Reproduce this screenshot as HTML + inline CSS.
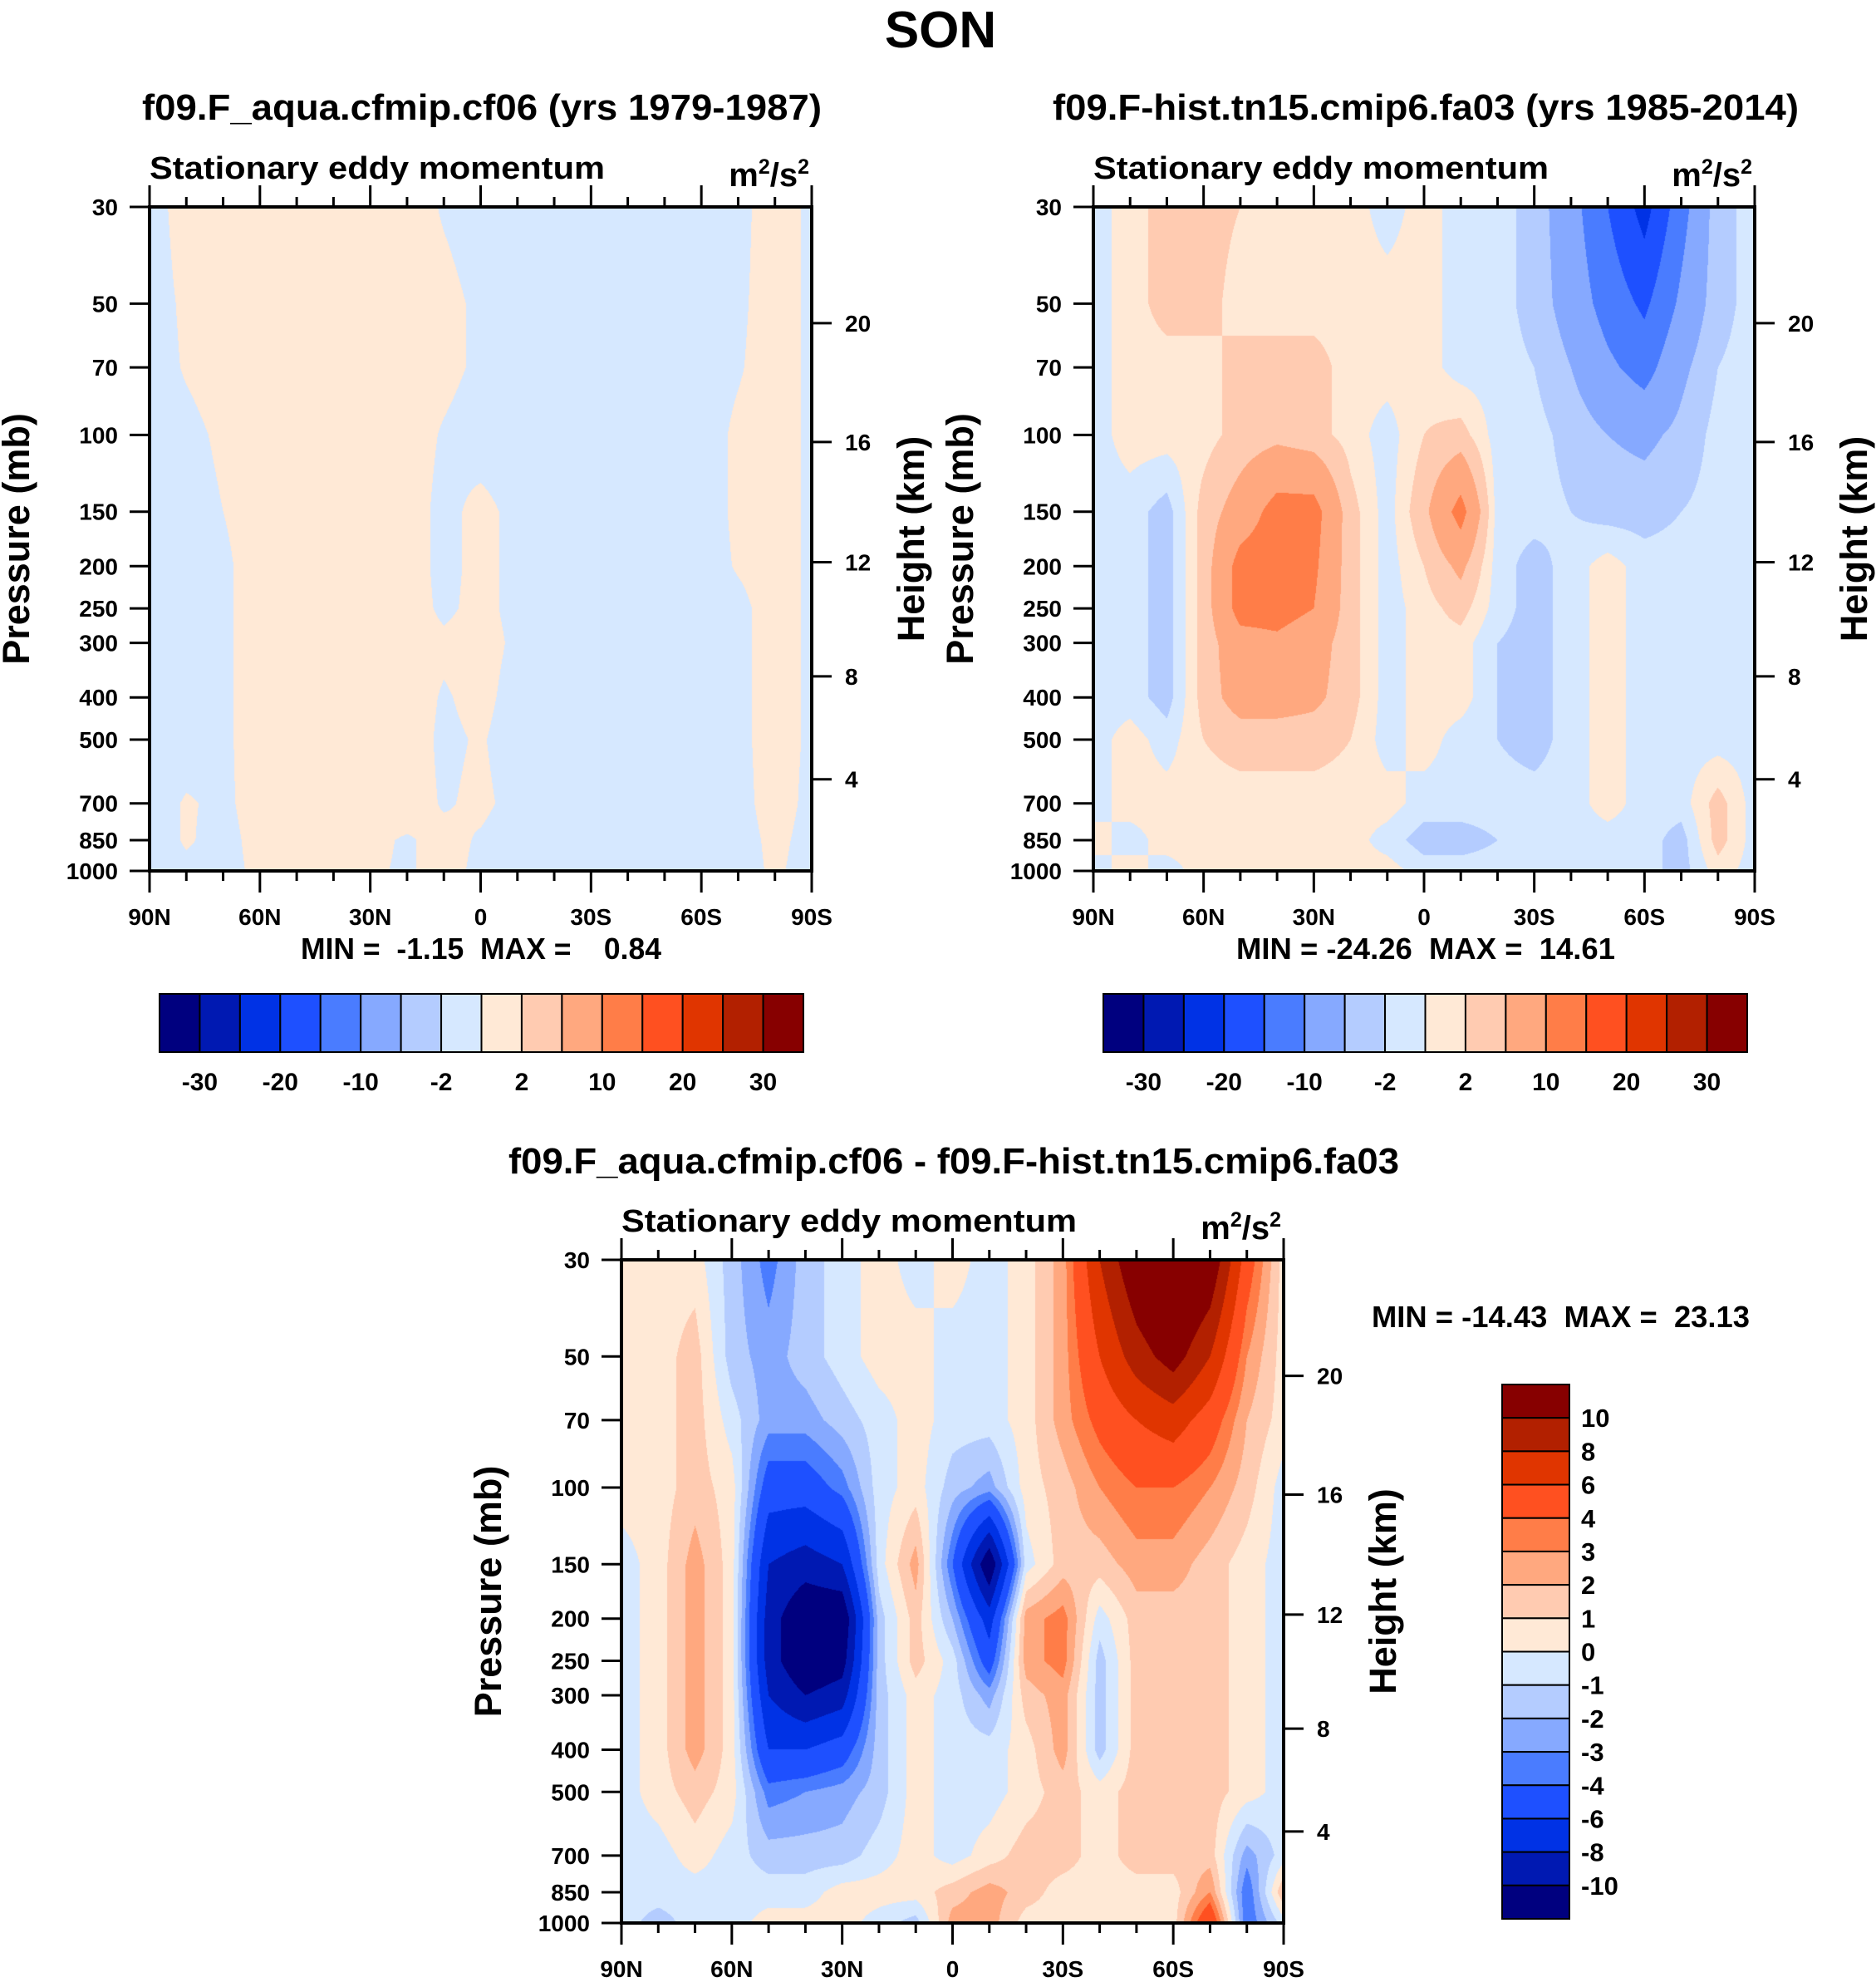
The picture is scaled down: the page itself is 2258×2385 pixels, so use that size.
<!DOCTYPE html>
<html><head><meta charset="utf-8">
<style>
html,body{margin:0;padding:0;background:#fff;}
#root{position:relative;width:2258px;height:2385px;overflow:hidden;background:#fff;}
canvas{position:absolute;}
svg{position:absolute;left:0;top:0;}
text{font-family:"Liberation Sans",Arial,sans-serif;font-weight:bold;fill:#000;white-space:pre;}
</style></head>
<body>
<div id="root">
<canvas id="c1"></canvas>
<canvas id="c2"></canvas>
<canvas id="c3"></canvas>
<svg id="ov" width="2258" height="2385"></svg>
</div>
<script>
// ---- data ----
const levels = [30,50,70,100,150,200,250,300,400,500,700,850,1000];
const lats = [90,80,70,60,50,40,30,20,10,0,-10,-20,-30,-40,-50,-60,-70,-80,-90];
const latTickLabels = ['90N','60N','30N','0','30S','60S','90S'];
const heightTicks = [20,16,12,8,4];
const heightFrac = [0.175,0.354,0.535,0.707,0.862];
const topBounds = [-30,-25,-20,-15,-10,-5,-2,0,2,5,10,15,20,25,30];
const diffBounds = [-10,-8,-6,-4,-3,-2,-1,0,1,2,3,4,6,8,10];
const topBarLabels = ['-30','-20','-10','-2','2','10','20','30'];
const diffBarLabels = ['10','8','6','4','3','2','1','0','-1','-2','-3','-4','-6','-8','-10'];
const palette = ['#00007f','#0019b2','#0032e5','#1e50ff','#4a7cff','#86a9ff','#b4ccff','#d6e8ff','#ffe9d6','#ffcbb1','#ffa87f','#ff7d48','#ff5020','#e03500','#b22000','#870000'];

const field1 = [
[-.5,.5,.5,.5,.5,.5,.5,.5,-.1,-.5,-.5,-.5,-.5,-.5,-.5,-.5,-.3,.5,-.2],
[-.5,.2,.5,.5,.5,.5,.5,.5,.3,-.2,-.5,-.5,-.5,-.5,-.5,-.5,-.2,.5,-.2],
[-.5,.1,.5,.5,.5,.5,.5,.5,.3,-.2,-.5,-.5,-.5,-.5,-.5,-.5,-.1,.5,-.2],
[-.5,-.3,.2,.5,.5,.5,.5,.5,-.1,-.5,-.5,-.5,-.5,-.5,-.5,-.5,.2,.5,-.2],
[-.5,-.5,0,.5,.5,.5,.5,.5,-.3,.3,-.3,-.5,-.5,-.5,-.5,-.5,.2,.5,-.2],
[-.5,-.5,-.2,.5,.5,.5,.5,.5,-.3,.3,-.3,-.5,-.5,-.5,-.5,-.5,.1,.5,-.2],
[-.5,-.5,-.2,.5,.5,.5,.5,.5,-.2,.3,-.3,-.5,-.5,-.5,-.5,-.5,-.3,.5,-.2],
[-.5,-.5,-.2,.5,.5,.5,.5,.5,.2,.4,-.2,-.5,-.5,-.5,-.5,-.5,-.3,.5,-.2],
[-.5,-.5,-.2,.5,.5,.5,.5,.5,-.1,.3,-.4,-.5,-.5,-.5,-.5,-.5,-.3,.5,-.2],
[-.5,-.5,-.2,.5,.5,.5,.5,.5,-.2,.1,-.5,-.5,-.5,-.5,-.5,-.5,-.3,.5,-.2],
[-.5,.1,-.2,.4,.5,.5,.5,.5,-.1,.2,-.3,-.5,-.5,-.5,-.5,-.5,-.4,.5,-.3],
[-.5,.1,-.3,.3,.5,.5,.2,-.1,.3,-.1,-.5,-.5,-.5,-.5,-.5,-.5,-.5,.3,-.4],
[-.5,-.2,-.3,.2,.5,.5,.1,-.1,.3,-.2,-.5,-.5,-.5,-.5,-.5,-.5,-.5,.2,-.5]
];
const field2 = [
[-1,1,3,3,2,1,1,1,-1,1,-1,-1,-3,-8,-15,-22,-12,-3,-1],
[-1,1,3,3,1,1,1,1,1,1,-1,-1,-3,-7,-12,-16,-9,-3,-1],
[-1,1,1,1,3,3,3,1,1,1,-1,-1,-2,-5,-9,-12,-6,-2,-1],
[-1,1,1,1,3,4,3,1,-1,2,3,-1,-1,-3,-5,-6,-4,-1,-1],
[-1,-1,-3,3,7,12,12,3,-1,4,12,-1,-1,-2,-3,-3,-2,-1,-1],
[-1,-1,-3,3,12,13,11,3,-1,2,6,-1,-3,-1,1,-1,-1,-1,-1],
[-1,-1,-3,3,12,12,10,3,-1,1,3,-1,-3,-1,1,-1,-1,-1,-1],
[-1,-1,-3,3,8,9,7,3,-1,1,1,-2,-3,-1,1,-1,-1,-1,-1],
[-1,-1,-3,3,7,7,6,3,-1,1,1,-2,-3,-1,1,-1,-1,-1,-1],
[-1,1,-1,2,3,3,3,2,-1,1,-1,-2,-3,-1,1,-1,-1,-1,-1],
[-1,1,1,1,1,1,1,1,1,-1,-1,-1,-1,-1,1,-1,-1,3,-1],
[1,-1,1,1,1,1,1,1,-1,-3,-3,-2,-1,-1,-1,-1,-3,3,-1],
[-1,1,-1,1,1,1,1,1,1,-1,-1,-1,-1,-1,-1,-1,-3,1,-1]
];
const field3 = [
[.5,.5,.5,-1.5,-3.5,-1.5,-.5,.5,-.5,.5,-.5,.5,2.5,8,12,14,12,5,.5],
[.5,.5,1.5,-1.5,-2.5,-1.5,-.5,.5,.5,-.5,-.5,.5,2.5,6,9,11,8,3,.5],
[.5,.5,1.5,-.5,-2.5,-2.5,-1.5,-.5,.5,-.5,-.5,.5,2.5,4.5,6,7,5,2,.5],
[.5,.5,1.5,.5,-5,-5,-3.5,-.5,.5,-1.5,-2.5,.5,1.5,3,4,4,3,1.5,-.5],
[-.5,.5,2.5,.5,-8,-9,-8,-.5,2.5,-4,-12,-.5,1.5,1.5,2.5,2.5,1.5,.5,-.5],
[-.5,.5,2.5,.5,-9,-12,-12,-1.5,1.5,-2,-7,2.5,3.5,-.5,1.5,1.5,1.5,.5,-.5],
[-.5,.5,2.5,.5,-9,-12,-11,-1.5,1.5,-.5,-5,2.5,3.5,-1.5,1.5,1.5,1.5,.5,-.5],
[-.5,.5,2.5,.5,-8,-10,-9,-1.5,.5,-.5,-2.5,1.5,2.5,-1.5,1.5,1.5,1.5,.5,-.5],
[-.5,.5,2.5,.5,-6,-6,-5,-1.5,.5,-.5,-.5,.5,2.5,-1.5,1.5,1.5,1.5,.5,-.5],
[-.5,.5,1.5,.5,-3.5,-3,-2.5,-1.5,.5,-.5,-.5,.5,1.5,.5,1.5,1.5,1.5,.5,-.5],
[-.5,-.5,.5,-.5,-1.5,-1.5,-1.5,-.5,.5,-.5,.5,1.5,1.5,.5,1.5,1.5,1.5,-2.5,-.5],
[-.5,-.5,-.5,-.5,-.5,-.5,.5,.5,.5,1.5,2.5,1.5,.5,.5,.5,.5,3,-4,2],
[-.5,-1.5,-.5,-.5,.5,.5,.5,-.5,-1.5,2.5,2.5,.5,.5,.5,.5,.5,6,-4,-.5]
];

// ---- layout ----
const P1 = {x:180,y:249,w:797,h:799};
const P2 = {x:1316,y:249,w:796,h:799};
const P3 = {x:748,y:1516,w:797,h:798};
const svgNS = 'http://www.w3.org/2000/svg';
const ov = document.getElementById('ov');
const L0 = Math.log(30), L1 = Math.log(1000);
function yOfP(P,p){ return P.y + (Math.log(p)-L0)/(L1-L0)*P.h; }
function xOfLat(P,lat){ return P.x + (90-lat)/180*P.w; }
function hexRGB(h){ return [parseInt(h.substr(1,2),16),parseInt(h.substr(3,2),16),parseInt(h.substr(5,2),16)]; }
const rgbPal = palette.map(hexRGB);
const logLev = levels.map(Math.log);

function drawField(id,P,field,bounds){
  const c = document.getElementById(id);
  c.width=P.w; c.height=P.h; c.style.left=P.x+'px'; c.style.top=P.y+'px';
  const ctx=c.getContext('2d'); const img=ctx.createImageData(P.w,P.h);
  for(let py=0;py<P.h;py++){
    const lp = L0 + (py+0.5)/P.h*(L1-L0);
    let i=0; while(i<levels.length-2 && logLev[i+1]<lp) i++;
    let ty=(lp-logLev[i])/(logLev[i+1]-logLev[i]); ty=Math.max(0,Math.min(1,ty));
    for(let px=0;px<P.w;px++){
      const fx=(px+0.5)/P.w*(lats.length-1);
      let j=Math.min(lats.length-2,Math.floor(fx)); const tx=fx-j;
      const v=(field[i][j]*(1-tx)+field[i][j+1]*tx)*(1-ty)+(field[i+1][j]*(1-tx)+field[i+1][j+1]*tx)*ty;
      let b=0; while(b<bounds.length && v>bounds[b]) b++;
      const col=rgbPal[b]; const k=(py*P.w+px)*4;
      img.data[k]=col[0]; img.data[k+1]=col[1]; img.data[k+2]=col[2]; img.data[k+3]=255;
    }
  }
  ctx.putImageData(img,0,0);
}
drawField('c1',P1,field1,topBounds);
drawField('c2',P2,field2,topBounds);
drawField('c3',P3,field3,diffBounds);

function mk(tag,attrs){ const e=document.createElementNS(svgNS,tag); for(const k in attrs) e.setAttribute(k,attrs[k]); ov.appendChild(e); return e; }
function txt(s,attrs){ const e=mk('text',attrs); e.textContent=s; return e; }

function axes(P,pfx,tickFont){
  const r=mk('rect',{x:P.x,y:P.y,width:P.w,height:P.h,fill:'none',stroke:'#000','stroke-width':4});
  
  
  levels.forEach(p=>{
    const y=yOfP(P,p);
    const t=mk('line',{x1:P.x-24,x2:P.x,y1:y,y2:y,stroke:'#000','stroke-width':3});
    
    
    const l=txt(String(p),{x:P.x-38,y:y+10,'font-size':tickFont,'text-anchor':'end'});
    
    
  });
  for(let lat=90;lat>=-90;lat-=10){
    const x=xOfLat(P,lat); const major=(lat%30===0); const len=major?26:12;
    const t1=mk('line',{x1:x,x2:x,y1:P.y-len,y2:P.y,stroke:'#000','stroke-width':3});
    
    
    const t2=mk('line',{x1:x,x2:x,y1:P.y+P.h,y2:P.y+P.h+len,stroke:'#000','stroke-width':3});
    
    
  }
  latTickLabels.forEach((s,k)=>{
    const l=txt(s,{x:xOfLat(P,90-30*k),y:P.y+P.h+65,'font-size':tickFont,'text-anchor':'middle'});
    
    
  });
  heightTicks.forEach((h,k)=>{
    const y=P.y+heightFrac[k]*P.h;
    const t=mk('line',{x1:P.x+P.w,x2:P.x+P.w+24,y1:y,y2:y,stroke:'#000','stroke-width':3});
    
    
    const l=txt(String(h),{x:P.x+P.w+40,y:y+10,'font-size':tickFont});
    
    
  });
  const cy=P.y+P.h/2;
  const yl=txt('Pressure (mb)',{x:0,y:0,'font-size':45,'text-anchor':'middle',transform:`translate(${P.x-145},${cy}) rotate(-90)`});
  
  
  const hl=txt('Height (km)',{x:0,y:0,'font-size':45,'text-anchor':'middle',transform:`translate(${P.x+P.w+135},${cy}) rotate(-90)`});
  
  
  const st=txt('Stationary eddy momentum',{x:P.x,y:P.y-34,'font-size':38,textLength:548,lengthAdjust:'spacingAndGlyphs'});
  
  
  const un=mk('text',{x:P.x+P.w-3,y:P.y-25,'font-size':40,'text-anchor':'end'});
  un.innerHTML='m<tspan dy="-15" font-size="25">2</tspan><tspan dy="15">/s</tspan><tspan dy="-15" font-size="25">2</tspan>';
  
  
}
axes(P1,'left-panel',28);
axes(P2,'right-panel',28);
axes(P3,'diff-panel',28);

const son=txt('SON',{x:1132,y:57,'font-size':62,'text-anchor':'middle'});


const t1=txt('f09.F_aqua.cfmip.cf06 (yrs 1979-1987)',{x:580,y:144,'font-size':44,'text-anchor':'middle',textLength:818,lengthAdjust:'spacingAndGlyphs'});


const t2=txt('f09.F-hist.tn15.cmip6.fa03 (yrs 1985-2014)',{x:1716,y:144,'font-size':44,'text-anchor':'middle',textLength:898,lengthAdjust:'spacingAndGlyphs'});


const t3=txt('f09.F_aqua.cfmip.cf06 - f09.F-hist.tn15.cmip6.fa03',{x:1148,y:1412,'font-size':44,'text-anchor':'middle',textLength:1072,lengthAdjust:'spacingAndGlyphs'});


const m1=txt('MIN =  -1.15  MAX =    0.84',{x:579,y:1154,'font-size':36,'text-anchor':'middle',textLength:434,lengthAdjust:'spacingAndGlyphs'});


const m2=txt('MIN = -24.26  MAX =  14.61',{x:1716,y:1154,'font-size':36,'text-anchor':'middle',textLength:456,lengthAdjust:'spacingAndGlyphs'});


const m3=txt('MIN = -14.43  MAX =  23.13',{x:1651,y:1597,'font-size':36,textLength:455,lengthAdjust:'spacingAndGlyphs'});



function hBar(x0,x1,y0,y1,pfx){
  const bw=(x1-x0)/palette.length;
  palette.forEach((c,i)=>{
    const r=mk('rect',{x:x0+i*bw,y:y0,width:bw,height:y1-y0,fill:c,stroke:'#000','stroke-width':2});
    
    
  });
  topBarLabels.forEach((s,k)=>{
    const l=txt(s,{x:x0+(1+2*k)*bw,y:y1+46,'font-size':30,'text-anchor':'middle'});
    
    
  });
}
hBar(192,967,1196,1266,'left');
hBar(1328,2103,1196,1266,'right');

(function(){
  const x0=1808,x1=1889,y0=1666,y1=2309; const bh=(y1-y0)/palette.length;
  for(let i=0;i<palette.length;i++){
    const r=mk('rect',{x:x0,y:y0+i*bh,width:x1-x0,height:bh,fill:palette[palette.length-1-i],stroke:'#000','stroke-width':2});
    
    
  }
  diffBarLabels.forEach((s,k)=>{
    const l=txt(s,{x:1903,y:y0+(k+1)*bh+11,'font-size':31});
    
    
  });
})();
</script>
</body></html>
